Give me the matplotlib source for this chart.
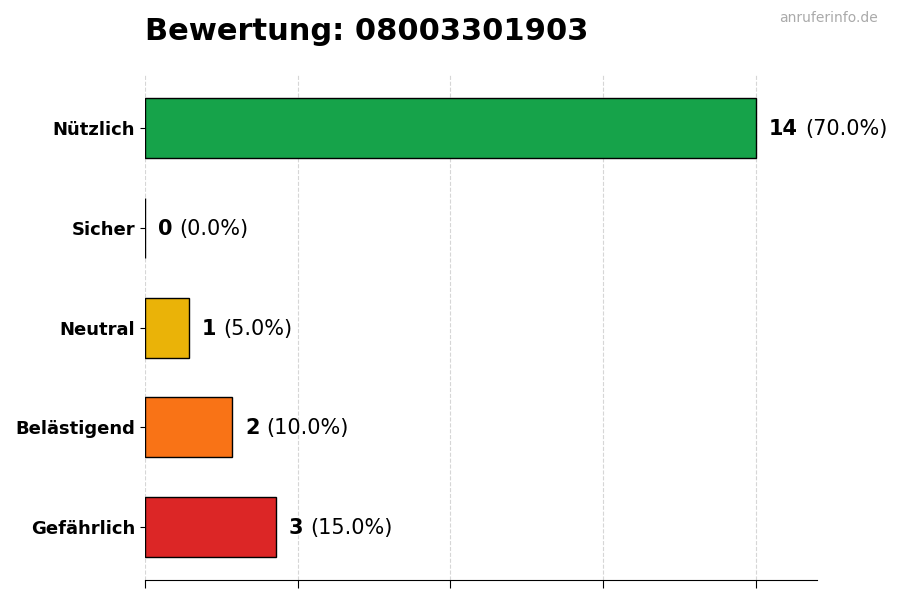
import matplotlib
matplotlib.use("Agg")
import matplotlib.pyplot as plt
from matplotlib.transforms import offset_copy

categories = ["Gefährlich", "Belästigend", "Neutral", "Sicher", "Nützlich"]
counts = [3, 2, 1, 0, 14]
colors = ["#dc2626", "#f97316", "#eab308", "#3b82f6", "#16a34a"]
total = sum(counts)

fig = plt.figure(figsize=(9, 6), dpi=100)
ax = fig.add_axes([0.161, 0.033, 0.747, 0.842])

ax.barh(categories, counts, height=0.6, color=colors, edgecolor="black", linewidth=1)

ax.set_xlim(0, max(counts) * 1.1)
ax.set_xticks([0, 3.5, 7, 10.5, 14])
ax.set_xticklabels([])
ax.tick_params(axis="x", length=6)
ax.tick_params(axis="y", labelsize=13)
for lbl in ax.get_yticklabels():
    lbl.set_fontweight("bold")

ax.grid(axis="x", linestyle="--", color="#cccccc", alpha=0.8)
ax.set_axisbelow(True)
for side in ["top", "right", "left"]:
    ax.spines[side].set_visible(False)

fig.canvas.draw()
renderer = fig.canvas.get_renderer()
for i, c in enumerate(counts):
    t = ax.text(c, i, str(c), fontsize=15, fontweight="bold", va="center", ha="left",
                transform=offset_copy(ax.transData, fig=fig, x=13, y=-1, units="dots"))
    w = t.get_window_extent(renderer).width
    ax.text(c, i, f"({c / total * 100:.1f}%)", fontsize=15, va="center", ha="left",
            transform=offset_copy(ax.transData, fig=fig, x=13 + w + 7, y=-1, units="dots"))

fig.text(0.161, 0.947, "Bewertung: 08003301903", fontsize=22, fontweight="bold", va="center", ha="left")
fig.text(0.975, 0.97, "anruferinfo.de", fontsize=10, color="#aaaaaa", va="center", ha="right")

fig.savefig("out.png", dpi=100)
